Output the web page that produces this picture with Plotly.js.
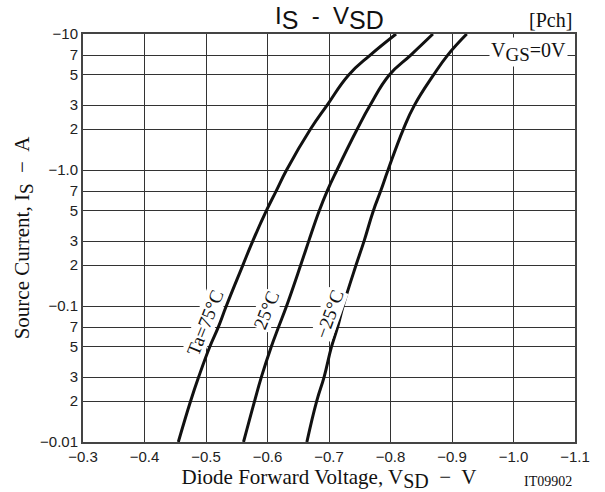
<!DOCTYPE html>
<html>
<head>
<meta charset="utf-8">
<script src="https://cdn.plot.ly/plotly-3.0.1.min.js"></script>
<style>html,body{margin:0;padding:0;background:#fff;}#chart{width:605px;height:492px;}</style>
</head>
<body>
<div id="chart"></div>
<script>
// Source current magnitudes (A); axis labels show them with a minus sign
const currentI = [0.01,0.02,0.03,0.05,0.07,0.1,0.2,0.3,0.5,0.7,1,2,3,5,7,10];
// Diode forward voltage (V) for each temperature
const vsd_75 = [-0.455,-0.475,-0.488,-0.506,-0.520,-0.533,-0.560,-0.576,-0.598,-0.614,-0.631,-0.670,-0.697,-0.732,-0.767,-0.809];
const vsd_25 = [-0.561,-0.579,-0.590,-0.606,-0.618,-0.631,-0.654,-0.667,-0.684,-0.697,-0.713,-0.746,-0.767,-0.798,-0.833,-0.869];
const vsd_m25 = [-0.664,-0.680,-0.692,-0.704,-0.714,-0.723,-0.744,-0.757,-0.772,-0.784,-0.796,-0.821,-0.839,-0.870,-0.893,-0.924];
const seriesNames = ['Ta=75°C','25°C','−25°C'];
const yTickVals = [0.01,0.02,0.03,0.05,0.07,0.1,0.2,0.3,0.5,0.7,1,2,3,5,7,10];
const yTickText = ['−0.01','2','3','5','7','−0.1','2','3','5','7','−1.0','2','3','5','7','−10'];

const serif = 'Liberation Serif, Times New Roman, serif';
const sans = 'Liberation Sans, Arial, sans-serif';
const bigSub = (t, s) => '<sub><span style="font-size:' + s + 'px">' + t + '</span></sub>';

const mk = (x, name) => ({
  x: x, y: currentI, name: name, type: 'scatter', mode: 'lines',
  line: {color: '#111', width: 3, shape: 'spline', smoothing: 1.3},
  hoverinfo: 'skip', showlegend: false
});

const data = [mk(vsd_75, seriesNames[0]), mk(vsd_25, seriesNames[1]), mk(vsd_m25, seriesNames[2])];

const lbl = (text, x, y, ang) => ({
  text: text, x: x, y: y, xref: 'x', yref: 'y', showarrow: false,
  textangle: ang, bgcolor: '#fff', borderpad: 0,
  font: {family: serif, size: 19, color: '#111'}
});

const layout = {
  width: 605, height: 492,
  margin: {l: 83, r: 30, t: 34, b: 50},
  paper_bgcolor: '#fff', plot_bgcolor: '#fff',
  xaxis: {
    range: [-0.3, -1.1], tick0: -0.3, dtick: 0.1, tickformat: '.1f',
    showgrid: true, gridcolor: '#333', gridwidth: 1,
    showline: true, mirror: true, linecolor: '#444', linewidth: 2,
    ticks: '', zeroline: false,
    tickfont: {family: sans, size: 15, color: '#222'},
    title: {text: 'Diode Forward Voltage, V' + bigSub('SD', 20) + '  −  V', font: {family: serif, size: 21, color: '#111'}, standoff: 4}
  },
  yaxis: {
    type: 'log', range: [-2, 1],
    tickmode: 'array', tickvals: yTickVals, ticktext: yTickText,
    showgrid: true, gridcolor: '#333', gridwidth: 1,
    showline: true, mirror: true, linecolor: '#444', linewidth: 2,
    ticks: '', zeroline: false,
    tickfont: {family: sans, size: 15, color: '#222'},
    title: {text: 'Source Current, I' + bigSub('S', 19) + '  −  A', font: {family: serif, size: 21, color: '#111'}, standoff: 5}
  },
  annotations: [
    lbl(seriesNames[0], -0.498, -1.118, -68),
    lbl(seriesNames[1], -0.599, -1.029, -68),
    lbl(seriesNames[2], -0.700, -1.059, -70),
    {text: 'I' + bigSub('S', 25) + '  -  V' + bigSub('SD', 25), xref: 'paper', yref: 'paper', x: 0.5, y: 1.04,
     xanchor: 'center', yanchor: 'middle',
     showarrow: false, font: {family: sans, size: 24, color: '#111'}},
    {text: '[Pch]', xref: 'paper', yref: 'paper', x: 0.951, y: 1.034,
     xanchor: 'center', yanchor: 'middle',
     showarrow: false, font: {family: serif, size: 20, color: '#111'}},
    {text: 'V' + bigSub('GS', 19) + '=0V', xref: 'paper', yref: 'paper', x: 0.906, y: 0.956,
     xanchor: 'center', yanchor: 'middle',
     showarrow: false, bgcolor: '#fff', borderpad: 1, font: {family: serif, size: 20, color: '#111'}},
    {text: 'IT09902', xref: 'paper', yref: 'paper', x: 0.945, y: -0.098,
     xanchor: 'center', yanchor: 'middle',
     showarrow: false, font: {family: serif, size: 14, color: '#111'}}
  ]
};

Plotly.newPlot('chart', data, layout, {staticPlot: true, displayModeBar: false});
</script>
</body>
</html>
